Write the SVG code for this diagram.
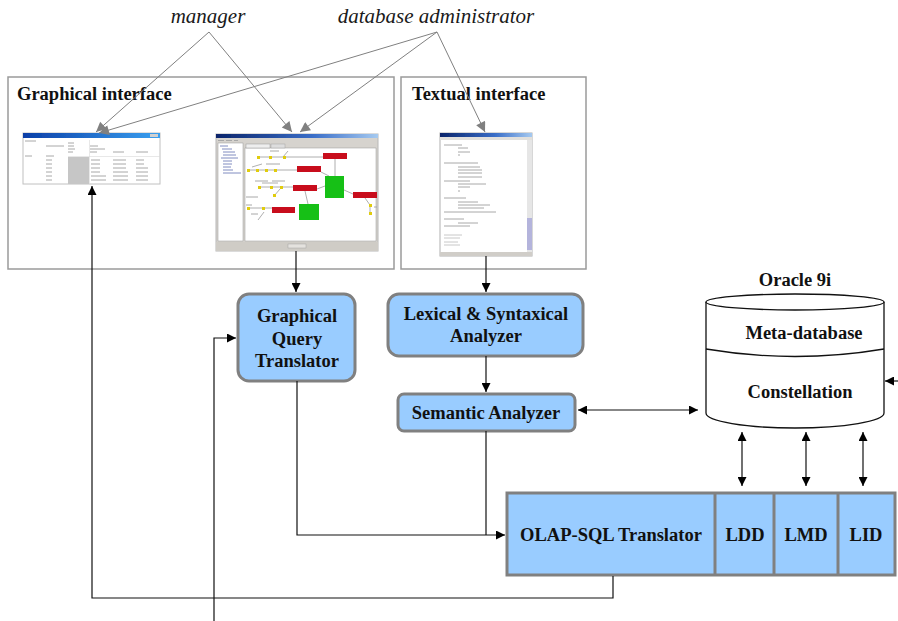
<svg xmlns="http://www.w3.org/2000/svg" width="898" height="621" viewBox="0 0 898 621">
  <defs>
    <style>
      .actor { font-family: "Liberation Serif", "Times New Roman", serif; font-style: italic; font-size: 21px; fill: #1a1a1a; }
      .lbl { font-family: "Liberation Serif", "Times New Roman", serif; font-weight: bold; font-size: 18.5px; fill: #111; }
      .mid { text-anchor: middle; }
      .frame { fill: none; stroke: #9a9a9a; stroke-width: 1.5; }
      .proc { fill: #99ccff; stroke: #808080; stroke-width: 3; }
      .user { fill: none; stroke: #808080; stroke-width: 1; marker-end: url(#ahGray); }
      .flow { fill: none; stroke: #111; stroke-width: 1.2; }
      .arr { marker-end: url(#ahBlack); }
      .dbl { marker-start: url(#ahBlack); marker-end: url(#ahBlack); }
      .db { fill: #fff; stroke: #111; stroke-width: 1.3; }
      .txl { stroke: #a8a8a8; stroke-width: 1; }
      .red { fill: #c8101a; }
      .grn { fill: #18c018; }
      .dot { fill: #e0cc10; }
      .wire { stroke: #9a9a9a; stroke-width: 0.8; fill: none; }
    </style>
    <marker id="ahBlack" viewBox="0 0 10 10" refX="10" refY="5" markerWidth="10" markerHeight="9" markerUnits="userSpaceOnUse" orient="auto-start-reverse">
      <path d="M0,0 L10,5 L0,10 z" fill="#000"/>
    </marker>
    <marker id="ahGray" viewBox="0 0 10 10" refX="10" refY="5" markerWidth="12" markerHeight="10" markerUnits="userSpaceOnUse" orient="auto">
      <path d="M0,0 L10,5 L0,10 z" fill="#808080"/>
    </marker>
    <linearGradient id="titleBar" x1="0" y1="0" x2="1" y2="0">
      <stop offset="0" stop-color="#0a246a"/>
      <stop offset="0.6" stop-color="#3a6ec8"/>
      <stop offset="1" stop-color="#a6caf0"/>
    </linearGradient>
    <linearGradient id="titleBarBright" x1="0" y1="0" x2="1" y2="0">
      <stop offset="0" stop-color="#0b3fa8"/>
      <stop offset="1" stop-color="#3aa0f0"/>
    </linearGradient>
    <filter id="soft" x="-5%" y="-5%" width="110%" height="110%">
      <feGaussianBlur stdDeviation="0.35"/>
    </filter>
  </defs>

  <rect width="898" height="621" fill="#fff"/>

  <!-- actors -->
  <g id="manager">
    <text class="actor mid" x="208" y="23">manager</text>
  </g>
  <g id="dba">
    <text class="actor mid" x="436" y="23">database administrator</text>
  </g>

  <!-- interface frames -->
  <g id="graphical-interface">
    <rect class="frame" x="8" y="77" width="386" height="192"/>
    <text class="lbl" x="17" y="100">Graphical interface</text>
  </g>
  <g id="textual-interface">
    <rect class="frame" x="401" y="77" width="185" height="192"/>
    <text class="lbl" x="412" y="100">Textual interface</text>
  </g>

  <!-- table view window -->
  <g id="table-view" filter="url(#soft)">
    <rect x="23" y="133" width="137" height="51" fill="#fff" stroke="#c0c0c0" stroke-width="1"/>
    <rect x="23" y="133" width="137" height="5" fill="url(#titleBarBright)"/>
    <rect x="150" y="134" width="8" height="3" fill="#d0d0d0"/>
    <rect x="68" y="157" width="21" height="27" fill="#c6c6c6"/>
    <g class="txl">
      <line x1="25" y1="141" x2="36" y2="141"/>
      <line x1="68" y1="143" x2="74" y2="143"/>
      <line x1="46" y1="146" x2="64" y2="146"/>
      <line x1="68" y1="146" x2="74" y2="146"/>
      <line x1="90" y1="146" x2="98" y2="146"/>
      <line x1="68" y1="149" x2="75" y2="149"/>
      <line x1="90" y1="149" x2="105" y2="149"/>
      <line x1="68" y1="152" x2="73" y2="152"/>
      <line x1="90" y1="152" x2="97" y2="152"/>
      <line x1="113" y1="152" x2="124" y2="152"/>
      <line x1="136" y1="152" x2="148" y2="152"/>
      <line x1="25" y1="156" x2="32" y2="156"/>
      <line x1="46" y1="156" x2="54" y2="156"/>
      <line x1="46" y1="160" x2="52" y2="160"/>
      <line x1="46" y1="164" x2="52" y2="164"/>
      <line x1="46" y1="168" x2="52" y2="168"/>
      <line x1="46" y1="172" x2="52" y2="172"/>
      <line x1="46" y1="176" x2="52" y2="176"/>
      <line x1="46" y1="180" x2="52" y2="180"/>
      <line x1="91" y1="160" x2="100" y2="160"/>
      <line x1="91" y1="164" x2="100" y2="164"/>
      <line x1="91" y1="168" x2="100" y2="168"/>
      <line x1="91" y1="172" x2="100" y2="172"/>
      <line x1="91" y1="176" x2="106" y2="176"/>
      <line x1="91" y1="180" x2="106" y2="180"/>
      <line x1="113" y1="160" x2="126" y2="160"/>
      <line x1="113" y1="164" x2="126" y2="164"/>
      <line x1="113" y1="168" x2="126" y2="168"/>
      <line x1="113" y1="172" x2="128" y2="172"/>
      <line x1="113" y1="176" x2="128" y2="176"/>
      <line x1="113" y1="180" x2="128" y2="180"/>
      <line x1="136" y1="160" x2="144" y2="160"/>
      <line x1="136" y1="164" x2="144" y2="164"/>
      <line x1="136" y1="168" x2="148" y2="168"/>
      <line x1="136" y1="172" x2="148" y2="172"/>
      <line x1="136" y1="176" x2="148" y2="176"/>
      <line x1="136" y1="180" x2="148" y2="180"/>
    </g>
    <line x1="68" y1="156.5" x2="160" y2="156.5" stroke="#d8d8d8" stroke-width="0.6"/>
    <line x1="89.5" y1="140" x2="89.5" y2="184" stroke="#d8d8d8" stroke-width="0.6"/>
  </g>

  <!-- graphical query editor window -->
  <g id="graph-editor" filter="url(#soft)">
    <rect x="216" y="134" width="162" height="117" fill="#d6d3ce" stroke="#b8b8b8" stroke-width="1"/>
    <rect x="216" y="134" width="162" height="4" fill="url(#titleBar)"/>
    <g class="txl">
      <line x1="218" y1="140.5" x2="224" y2="140.5"/>
      <line x1="226" y1="140.5" x2="232" y2="140.5"/>
      <line x1="234" y1="140.5" x2="238" y2="140.5"/>
    </g>
    <rect x="218" y="143" width="25" height="98" fill="#fff" stroke="#999" stroke-width="0.5"/>
    <rect x="245" y="148" width="131" height="93" fill="#fff" stroke="#999" stroke-width="0.5"/>
    <rect x="246" y="144" width="24" height="4" fill="#eee" stroke="#888" stroke-width="0.4"/>
    <rect x="271" y="144" width="14" height="4" fill="#ddd" stroke="#999" stroke-width="0.4"/>
    <g stroke="#6070b0" stroke-width="0.8">
      <line x1="220" y1="146" x2="228" y2="146"/>
      <line x1="222" y1="149" x2="232" y2="149"/>
      <line x1="223" y1="152" x2="235" y2="152"/>
      <line x1="223" y1="155" x2="236" y2="155"/>
      <line x1="221" y1="158" x2="238" y2="158"/>
      <line x1="223" y1="161" x2="232" y2="161"/>
      <line x1="223" y1="164" x2="232" y2="164"/>
      <line x1="223" y1="167" x2="231" y2="167"/>
      <line x1="223" y1="170" x2="233" y2="170"/>
      <line x1="223" y1="173" x2="241" y2="173"/>
    </g>
    <rect x="216" y="242" width="162" height="9" fill="#cfccc6"/>
    <rect x="288" y="244" width="18" height="4" fill="#e4e2de" stroke="#999" stroke-width="0.4"/>
    <!-- wiring -->
    <path class="wire" d="M258,157 H283 L288,151 M283,157 H323 M248,170 H297 M252,167 L262,164 M259,187 H293 M262,183 L278,183 M274,196 L280,189 M248,208 L264,208 M258,220 L264,212 M264,208 H272 M370,205 V213 M365,198 L370,205 M335,159 V176 M321,172 L329,176 M305,191 L308,204 M317,189 L325,186 M344,190 L353,194"/>
    <g class="txl" stroke-width="0.7">
      <line x1="270" y1="151" x2="279" y2="151"/>
      <line x1="266" y1="164" x2="280" y2="164"/>
      <line x1="255" y1="181" x2="268" y2="181"/>
      <line x1="272" y1="181" x2="285" y2="181"/>
      <line x1="246" y1="197" x2="258" y2="197"/>
      <line x1="246" y1="205" x2="252" y2="205"/>
      <line x1="251" y1="214" x2="258" y2="214"/>
      <line x1="374" y1="207" x2="377" y2="207"/>
    </g>
    <rect class="red" x="323" y="153" width="24" height="6"/>
    <rect class="red" x="297" y="166" width="24" height="6"/>
    <rect class="red" x="293" y="185" width="24" height="6"/>
    <rect class="red" x="272" y="207" width="23" height="6"/>
    <rect class="red" x="353" y="192" width="24" height="6"/>
    <rect class="grn" x="325" y="176" width="19" height="22"/>
    <rect class="grn" x="299" y="204" width="20" height="16"/>
    <g class="dot">
      <rect x="257" y="156" width="3" height="3"/>
      <rect x="269" y="156" width="3" height="3"/>
      <rect x="283" y="156" width="3" height="3"/>
      <rect x="247" y="169" width="3" height="3"/>
      <rect x="256" y="169" width="3" height="3"/>
      <rect x="265" y="169" width="3" height="3"/>
      <rect x="274" y="169" width="3" height="3"/>
      <rect x="258" y="186" width="3" height="3"/>
      <rect x="270" y="186" width="3" height="3"/>
      <rect x="280" y="186" width="3" height="3"/>
      <rect x="273" y="194" width="3" height="3"/>
      <rect x="247" y="207" width="3" height="3"/>
      <rect x="262" y="207" width="3" height="3"/>
      <rect x="369" y="204" width="3" height="3"/>
      <rect x="369" y="212" width="3" height="3"/>
    </g>
  </g>

  <!-- text query window -->
  <g id="text-editor" filter="url(#soft)">
    <rect x="440" y="133" width="92" height="123" fill="#fff" stroke="#b0b0b0" stroke-width="1"/>
    <rect x="440" y="133" width="92" height="4" fill="url(#titleBar)"/>
    <rect x="440" y="137" width="92" height="3" fill="#e2e0dc"/>
    <rect x="527" y="140" width="5" height="112" fill="#e6e6e6"/>
    <rect x="527" y="218" width="5" height="32" fill="#b4b4dc"/>
    <rect x="440" y="252" width="92" height="4" fill="#d0cdc8"/>
    <g class="txl">
      <line x1="444" y1="145" x2="462" y2="145"/>
      <line x1="458" y1="148" x2="468" y2="148"/>
      <line x1="458" y1="152" x2="470" y2="152"/>
      <line x1="458" y1="155" x2="460" y2="155"/>
      <line x1="444" y1="163" x2="478" y2="163"/>
      <line x1="458" y1="167" x2="480" y2="167"/>
      <line x1="458" y1="170" x2="482" y2="170"/>
      <line x1="458" y1="173" x2="482" y2="173"/>
      <line x1="458" y1="177" x2="482" y2="177"/>
      <line x1="444" y1="181" x2="470" y2="181"/>
      <line x1="458" y1="184" x2="486" y2="184"/>
      <line x1="458" y1="187" x2="470" y2="187"/>
      <line x1="458" y1="191" x2="460" y2="191"/>
      <line x1="444" y1="198" x2="466" y2="198"/>
      <line x1="458" y1="202" x2="478" y2="202"/>
      <line x1="458" y1="205" x2="490" y2="205"/>
      <line x1="458" y1="208" x2="484" y2="208"/>
      <line x1="444" y1="212" x2="496" y2="212"/>
      <line x1="444" y1="219" x2="464" y2="219"/>
      <line x1="458" y1="223" x2="478" y2="223"/>
      <line x1="444" y1="226" x2="470" y2="226"/>
      <line x1="444" y1="235" x2="462" y2="235" stroke="#c8c8c8"/>
      <line x1="444" y1="238" x2="460" y2="238" stroke="#c8c8c8"/>
      <line x1="444" y1="242" x2="458" y2="242" stroke="#c8c8c8"/>
      <line x1="444" y1="245" x2="460" y2="245" stroke="#c8c8c8"/>
    </g>
  </g>

  <!-- processing modules -->
  <g id="graphical-query-translator">
    <rect class="proc" x="238" y="294" width="117" height="87" rx="11"/>
    <text class="lbl mid" x="297" y="322">Graphical</text>
    <text class="lbl mid" x="297" y="345">Query</text>
    <text class="lbl mid" x="297" y="367">Translator</text>
  </g>
  <g id="lexical-syntaxical-analyzer">
    <rect class="proc" x="388" y="294" width="195" height="62" rx="11"/>
    <text class="lbl mid" x="486" y="320">Lexical &amp; Syntaxical</text>
    <text class="lbl mid" x="486" y="342">Analyzer</text>
  </g>
  <g id="semantic-analyzer">
    <rect class="proc" x="398" y="394" width="177" height="37" rx="6"/>
    <text class="lbl mid" x="486" y="419">Semantic Analyzer</text>
  </g>
  <g id="olap-sql-translator">
    <rect class="proc" x="507" y="493" width="388" height="82"/>
    <line x1="715" y1="493" x2="715" y2="575" stroke="#808080" stroke-width="3"/>
    <line x1="774" y1="493" x2="774" y2="575" stroke="#808080" stroke-width="3"/>
    <line x1="838" y1="493" x2="838" y2="575" stroke="#808080" stroke-width="3"/>
    <text class="lbl mid" x="611" y="541">OLAP-SQL Translator</text>
    <text class="lbl mid" x="745" y="541">LDD</text>
    <text class="lbl mid" x="806" y="541">LMD</text>
    <text class="lbl mid" x="866" y="541">LID</text>
  </g>

  <!-- Oracle database -->
  <g id="oracle-db">
    <text class="lbl mid" x="795" y="286">Oracle 9i</text>
    <path class="db" d="M706,302 V413 A89,15 0 0 0 884,413 V302"/>
    <ellipse class="db" cx="795" cy="302" rx="89" ry="8"/>
    <path d="M706,349 Q795,364 884,349" fill="none" stroke="#111" stroke-width="1.3"/>
    <text class="lbl mid" x="804" y="339">Meta-database</text>
    <text class="lbl mid" x="800" y="398">Constellation</text>
  </g>

  <!-- connectors -->
  <g id="connectors">
    <line class="user" x1="209" y1="32" x2="96" y2="132"/>
    <line class="user" x1="209" y1="32" x2="292" y2="132"/>
    <line class="user" x1="437" y1="32" x2="99" y2="133"/>
    <line class="user" x1="437" y1="32" x2="300" y2="132"/>
    <line class="user" x1="437" y1="32" x2="485" y2="132"/>

    <line class="flow arr" x1="296" y1="251" x2="296" y2="292"/>
    <line class="flow arr" x1="486" y1="256" x2="486" y2="292"/>
    <line class="flow arr" x1="486" y1="356" x2="486" y2="392"/>
    <line class="flow dbl" x1="578" y1="410" x2="698" y2="410"/>

    <path class="flow arr" d="M297,381 V535 H505"/>
    <path class="flow" d="M486,431 V535"/>
    <path class="flow arr" d="M613,576 V598 H92 V186"/>
    <path class="flow arr" d="M214,621 V338 H236"/>

    <line class="flow dbl" x1="742" y1="432" x2="742" y2="486"/>
    <line class="flow dbl" x1="806" y1="432" x2="806" y2="486"/>
    <line class="flow dbl" x1="863" y1="432" x2="863" y2="486"/>
    <line class="flow arr" x1="898" y1="381" x2="885" y2="381"/>
  </g>
</svg>
